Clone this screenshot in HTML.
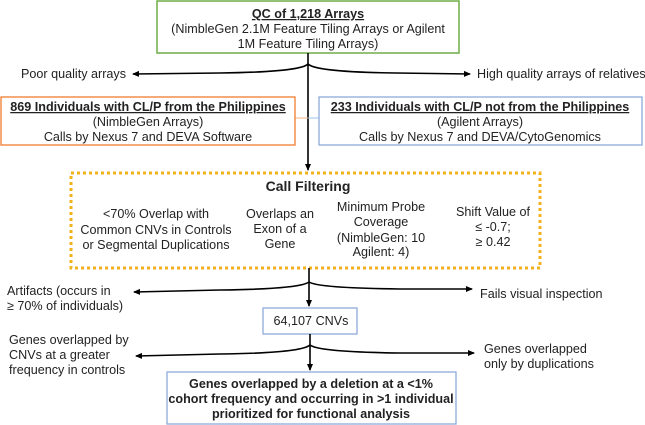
<!DOCTYPE html>
<html><head><meta charset="utf-8"><style>
html,body{margin:0;padding:0;background:#fff;}
svg{display:block;font-family:"Liberation Sans",Arial,sans-serif;}
text{font-size:12.6px;fill:#222;}
.b{font-weight:bold;}
</style></head><body>
<svg width="645" height="425" viewBox="0 0 645 425" xmlns="http://www.w3.org/2000/svg">
<defs>
<marker id="a" markerWidth="8" markerHeight="8" refX="6" refY="4" orient="auto" markerUnits="userSpaceOnUse">
<path d="M0,1 L7,4 L0,7 Z" fill="#000"/></marker>
</defs>
<!-- top box -->
<rect x="157" y="1" width="302" height="52" fill="#fff" stroke="#70ad47" stroke-width="1.5"/>
<text x="308" y="18" text-anchor="middle" class="b" text-decoration="underline">QC of 1,218 Arrays</text>
<text x="308" y="33" text-anchor="middle">(NimbleGen 2.1M Feature Tiling Arrays or Agilent</text>
<text x="308" y="48" text-anchor="middle">1M Feature Tiling Arrays)</text>
<!-- fork 1 -->
<g fill="none" stroke="#000" stroke-width="1.6">
<line x1="308" y1="53" x2="308" y2="170" marker-end="url(#a)"/>
<path d="M308,64 Q300,72 220,73 L133,74" marker-end="url(#a)"/>
<path d="M308,64 Q316,72 396,73 L470,74" marker-end="url(#a)"/>
</g>
<text x="21" y="78">Poor quality arrays</text>
<text x="477" y="78">High quality arrays of relatives</text>
<!-- side boxes -->
<line x1="295" y1="118" x2="308" y2="118" stroke="#f4b183" stroke-width="1"/>
<line x1="308" y1="118" x2="319" y2="118" stroke="#9dc3e6" stroke-width="1"/>
<rect x="1" y="97" width="294" height="48" fill="none" stroke="#ed7d31" stroke-width="1.3"/>
<text x="148" y="111" text-anchor="middle" class="b" text-decoration="underline">869 Individuals with CL/P from the Philippines</text>
<text x="148" y="126" text-anchor="middle">(NimbleGen Arrays)</text>
<text x="148" y="141" text-anchor="middle">Calls by Nexus 7 and DEVA Software</text>
<rect x="319" y="97" width="323" height="48" fill="none" stroke="#8faadc" stroke-width="1.3"/>
<text x="480" y="111" text-anchor="middle" class="b" text-decoration="underline">233 Individuals with CL/P not from the Philippines</text>
<text x="480" y="126" text-anchor="middle">(Agilent Arrays)</text>
<text x="480" y="141" text-anchor="middle">Calls by Nexus 7 and DEVA/CytoGenomics</text>
<!-- call filtering -->
<rect x="71" y="173" width="469" height="95" fill="none" stroke="#f2b21c" stroke-width="3" stroke-dasharray="3,3"/>
<text x="308" y="191" text-anchor="middle" class="b" style="font-size:14px">Call Filtering</text>
<text text-anchor="middle"><tspan x="156" y="218">&lt;70% Overlap with</tspan><tspan x="156" y="234">Common CNVs in Controls</tspan><tspan x="156" y="249">or Segmental Duplications</tspan></text>
<text text-anchor="middle"><tspan x="280" y="218">Overlaps an</tspan><tspan x="280" y="233">Exon of a</tspan><tspan x="280" y="248">Gene</tspan></text>
<text text-anchor="middle"><tspan x="381" y="211">Minimum Probe</tspan><tspan x="381" y="226">Coverage</tspan><tspan x="381" y="242">(NimbleGen: 10</tspan><tspan x="381" y="256">Agilent: 4)</tspan></text>
<text text-anchor="middle"><tspan x="493" y="216">Shift Value of</tspan><tspan x="493" y="231">≤ -0.7;</tspan><tspan x="493" y="246">≥ 0.42</tspan></text>
<!-- fork 2 -->
<g fill="none" stroke="#000" stroke-width="1.6">
<line x1="309" y1="268" x2="309" y2="306" marker-end="url(#a)"/>
<path d="M309,282 Q300,289 220,290 L134,292" marker-end="url(#a)"/>
<path d="M309,282 Q318,288 400,289 L472,289" marker-end="url(#a)"/>
</g>
<text><tspan x="7" y="295">Artifacts (occurs in</tspan><tspan x="7" y="310">≥ 70% of individuals)</tspan></text>
<text x="480" y="298">Fails visual inspection</text>
<!-- CNVs -->
<rect x="263" y="308" width="94" height="26" fill="#fff" stroke="#8faadc" stroke-width="1.3"/>
<text x="311" y="325" text-anchor="middle">64,107 CNVs</text>
<g fill="none" stroke="#000" stroke-width="1.6">
<line x1="310" y1="334" x2="310" y2="370" marker-end="url(#a)"/>
<path d="M310,345 Q301,353 220,354 L136,356" marker-end="url(#a)"/>
<path d="M310,345 Q319,352 400,353 L474,353" marker-end="url(#a)"/>
</g>
<text><tspan x="9" y="344">Genes overlapped by</tspan><tspan x="9" y="359">CNVs at a greater</tspan><tspan x="9" y="374">frequency in controls</tspan></text>
<text><tspan x="484" y="353">Genes overlapped</tspan><tspan x="484" y="368">only by duplications</tspan></text>
<!-- bottom -->
<rect x="167" y="372" width="289" height="52" fill="#fff" stroke="#8faadc" stroke-width="1.3"/>
<text text-anchor="middle" class="b"><tspan x="311" y="388">Genes overlapped by a deletion at a &lt;1%</tspan><tspan x="311" y="403">cohort frequency and occurring in &gt;1 individual</tspan><tspan x="311" y="418">prioritized for functional analysis</tspan></text>
</svg>
</body></html>
